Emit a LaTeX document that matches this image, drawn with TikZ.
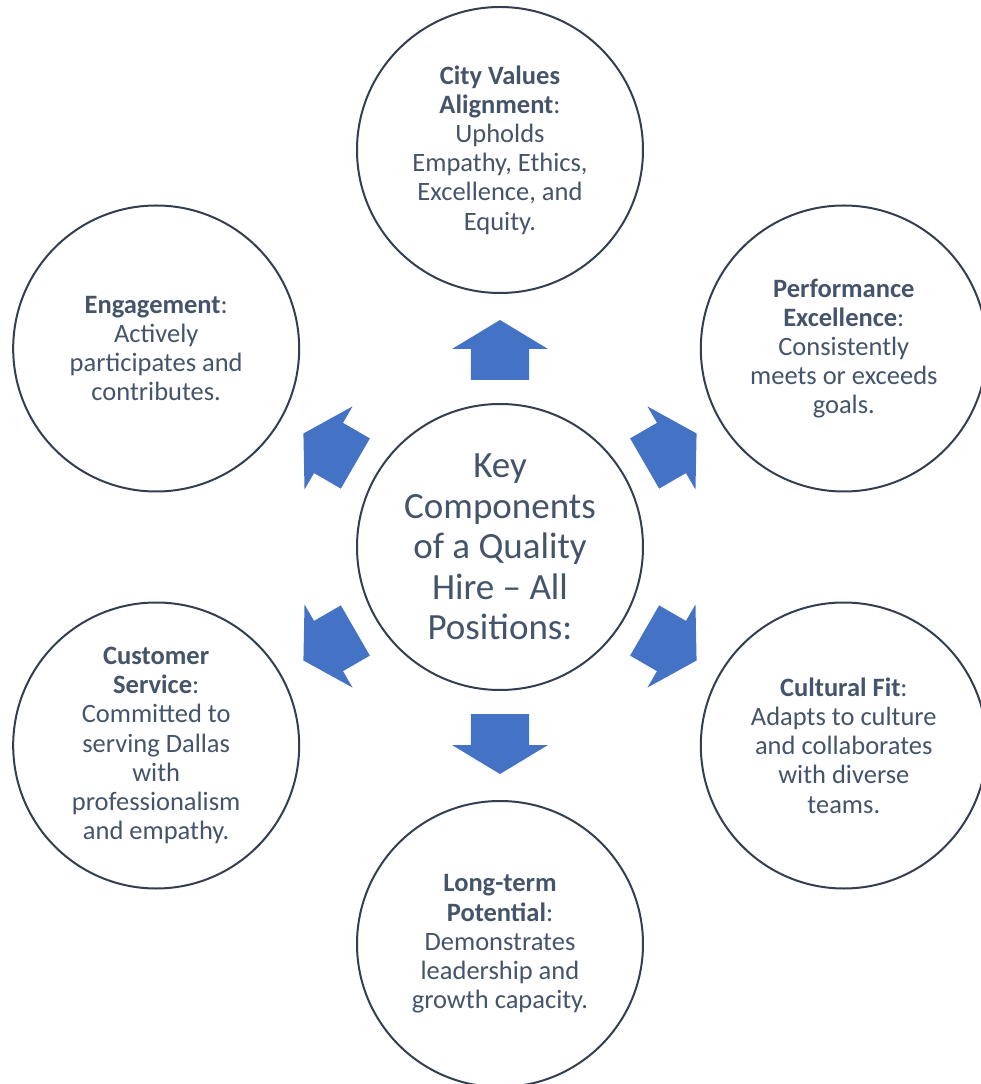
\documentclass[tikz,border=0pt]{standalone}
\usepackage{fontspec}
\setmainfont{Carlito}

\definecolor{txtgrey}{HTML}{44546A}
\definecolor{ringgrey}{HTML}{333F50}
\definecolor{arrowblue}{HTML}{4472C4}

\tikzset{
	bubble/.style = {circle, draw = ringgrey, line width = 2pt, fill = white,
		minimum size = 286pt, inner sep = 0pt, align = center, text = txtgrey,
		font = \fontsize{26.5}{29.2}\selectfont},
	hub/.style = {bubble, font = \fontsize{37}{40.6}\selectfont},
	blockarrow/.pic = {
		\fill[arrowblue] (-29pt,-30pt) -- (29pt,-30pt) -- (29pt,1pt) -- (48pt,1pt)
			-- (0pt,30pt) -- (-48pt,1pt) -- (-29pt,1pt) -- cycle;
	},
}

\begin{document}
\begin{tikzpicture}
		\def\d{397pt};
		\def\g{197pt};
		
		\useasboundingbox (-500pt,-537pt) rectangle (481pt,547pt);
		
		\node[hub] (key) at (0,0) {Key\\Components\\of a Quality\\Hire -- All\\Positions:};
		
		\node[bubble] (values) at (90:\d) {\textbf{City Values}\\\textbf{Alignment}:\\Upholds\\Empathy, Ethics,\\Excellence, and\\Equity.};
		\node[bubble] (perform) at (30:\d) {\textbf{Performance}\\\textbf{Excellence}:\\Consistently\\meets or exceeds\\goals.};
		\node[bubble] (culture) at (-30:\d) {\textbf{Cultural Fit}:\\Adapts to culture\\and collaborates\\with diverse\\teams.};
		\node[bubble] (potential) at (-90:\d) {\textbf{Long-term}\\\textbf{Potential}:\\Demonstrates\\leadership and\\growth capacity.};
		\node[bubble] (service) at (210:\d) {\textbf{Customer}\\\textbf{Service}:\\Committed to\\serving Dallas\\with\\professionalism\\and empathy.};
		\node[bubble] (engage) at (150:\d) {\textbf{Engagement}:\\Actively\\participates and\\contributes.};
		
		% arrows pointing out from the hub
		\pic[rotate = 0] (toValues) at (90:\g) {blockarrow};
		\pic[rotate = -60] (toPerform) at (30:\g) {blockarrow};
		\pic[rotate = -120] (toCulture) at (-30:\g) {blockarrow};
		\pic[rotate = 180] (toPotential) at (-90:\g) {blockarrow};
		\pic[rotate = 120] (toService) at (210:\g) {blockarrow};
		\pic[rotate = 60] (toEngage) at (150:\g) {blockarrow};
	\end{tikzpicture}
\end{document}
